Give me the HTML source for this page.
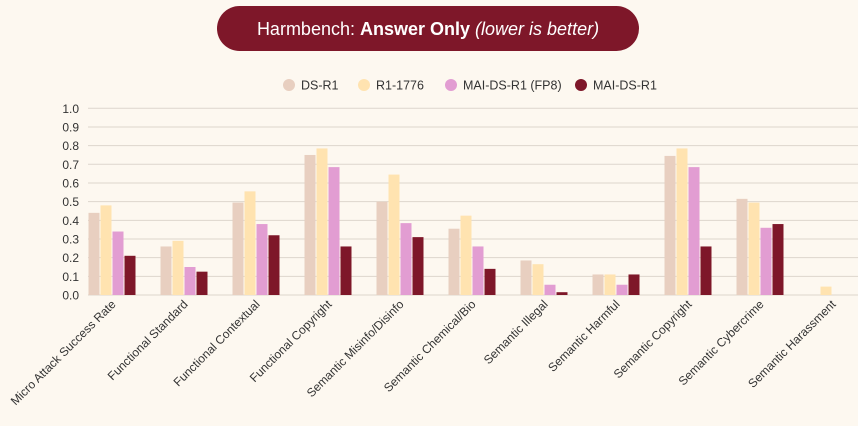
<!DOCTYPE html>
<html><head><meta charset="utf-8"><style>
body{margin:0;background:#FDF8F0;width:858px;height:421px;overflow:hidden;font-family:"Liberation Sans",sans-serif;}
</style></head><body>
<svg width="858" height="421" xmlns="http://www.w3.org/2000/svg">
<rect width="858" height="421" fill="#FDF8F0"/>
<g>
<rect x="217" y="6" width="422" height="45" rx="22.5" fill="#7E1729"/>
<text x="428" y="35" text-anchor="middle" fill="#fff" font-size="18">Harmbench: <tspan font-weight="bold">Answer Only</tspan> <tspan font-style="italic">(lower is better)</tspan></text>
</g>
<g id="legend"></g>
<g id="grid"></g>
<g id="yaxis"></g>
<g id="bars"></g>
<g id="xaxis"></g>
</svg>
<script>
const categories=["Micro Attack Success Rate","Functional Standard","Functional Contextual","Functional Copyright","Semantic Misinfo/Disinfo","Semantic Chemical/Bio","Semantic Illegal","Semantic Harmful","Semantic Copyright","Semantic Cybercrime","Semantic Harassment"];
const seriesNames=["DS-R1","R1-1776","MAI-DS-R1 (FP8)","MAI-DS-R1"];
const dsR1=[0.44,0.26,0.495,0.75,0.50,0.355,0.185,0.11,0.745,0.515,0];
const r11776=[0.48,0.29,0.555,0.785,0.645,0.425,0.165,0.11,0.785,0.495,0.045];
const maiFp8=[0.34,0.15,0.38,0.685,0.385,0.26,0.055,0.055,0.685,0.36,0];
const mai=[0.21,0.125,0.32,0.26,0.31,0.14,0.015,0.11,0.26,0.38,0];
const yTicks=[0,0.1,0.2,0.3,0.4,0.5,0.6,0.7,0.8,0.9,1.0];
const colors=["#E8CFC0","#FFE3B0","#E29DD2","#7E1729"];
const NS="http://www.w3.org/2000/svg";
const y0=295,yTop=108.3,plotL=88,plotR=858,band=72,first=112.5,bw=11,step=12;
function y(v){return y0-(y0-yTop)*v;}
function xc(i){return first+band*i;}
function mk(t,a,p){const e=document.createElementNS(NS,t);for(const k in a)e.setAttribute(k,a[k]);p.appendChild(e);return e;}
const grid=document.getElementById('grid'),ya=document.getElementById('yaxis'),bars=document.getElementById('bars'),xa=document.getElementById('xaxis'),lg=document.getElementById('legend');
yTicks.forEach(t=>{
 const l=mk('line',{x1:plotL,x2:plotR,y1:y(t),y2:y(t),stroke:'#DDD6CD','stroke-width':1},grid);
 
 
 const tx=mk('text',{x:79,y:y(t)+4.5,'text-anchor':'end','font-size':12,fill:'#333'},ya);
 tx.textContent=t.toFixed(1);
 
 
});
const all=[dsR1,r11776,maiFp8,mai];
categories.forEach((c,i)=>{
 all.forEach((s,k)=>{
  const v=s[i];if(v<=0)return;
  const r=mk('rect',{x:xc(i)-24+k*step,y:y(v),width:bw,height:y0-y(v),fill:colors[k]},bars);
  
  
 });
 const px=xc(i)+4,py=305;
 const t=mk('text',{x:px,y:py,'text-anchor':'end','font-size':12,fill:'#333',transform:`rotate(-45 ${px} ${py})`},xa);
 t.textContent=c;
 
 
});
const lx=[289,364,451,581];
seriesNames.forEach((n,k)=>{
 const g=mk('g',{},lg);
 
 
 mk('circle',{cx:lx[k],cy:85,r:6,fill:colors[k]},g);
 const t=mk('text',{x:lx[k]+12,y:89.5,'font-size':12.5,fill:'#333'},g);
 t.textContent=n;
});
</script>
</body></html>
